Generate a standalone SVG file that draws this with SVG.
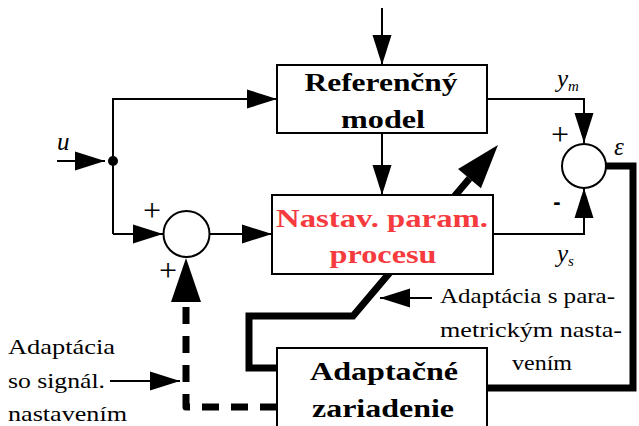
<svg xmlns="http://www.w3.org/2000/svg" width="639" height="426" viewBox="0 0 639 426">
<style>
.box{fill:#fff;stroke:#000;stroke-width:2}
.thin{fill:none;stroke:#000;stroke-width:2}
.thick{fill:none;stroke:#000;stroke-width:7}
.b{font-family:"Liberation Serif",serif;font-weight:bold;font-size:26px;text-anchor:middle}
.n{font-family:"Liberation Serif",serif;font-size:22px}
.p{font-family:"Liberation Serif",serif;font-size:32px;text-anchor:middle}
.m{font-family:"Liberation Serif",serif;font-style:italic;font-size:25px}
.s{font-family:"Liberation Serif",serif;font-style:italic;font-size:15px}
</style>
<defs>
<marker id="a" markerUnits="userSpaceOnUse" markerWidth="30" markerHeight="20" refX="30" refY="9.5" orient="auto" overflow="visible"><path d="M0,0 L30,9.5 L0,19 z" fill="#000"/></marker>
<marker id="A" markerUnits="userSpaceOnUse" markerWidth="44" markerHeight="30" refX="0" refY="15" orient="auto" overflow="visible"><path d="M0,0 L44,15 L0,30 z" fill="#000"/></marker>
</defs>
<g id="connectors">
<path class="thin" d="M382,8 L382,65" marker-end="url(#a)"/>
<path class="thin" d="M57,161 L105,161" marker-end="url(#a)"/>
<path class="thin" d="M113,234 L113,99 L277,99" marker-end="url(#a)"/>
<path class="thin" d="M113,234 L163,234" marker-end="url(#a)"/>
<circle cx="113" cy="161" r="5" fill="#000"/>
<path class="thin" d="M210,234 L272,234" marker-end="url(#a)"/>
<path class="thin" d="M382,133 L382,195" marker-end="url(#a)"/>
<path class="thin" d="M487,99 L584,99 L584,143" marker-end="url(#a)"/>
<path class="thin" d="M493,234 L584,234 L584,188" marker-end="url(#a)"/>
<path class="thin" d="M432,298 L380,298" marker-end="url(#a)"/>
<path class="thin" d="M110,381 L180,381" marker-end="url(#a)"/>
<path class="thick" d="M277,368 L249,368 L249,316 L353,316 L469.5,178.6" stroke-linejoin="miter" marker-end="url(#A)"/>
<path class="thick" d="M606,166 L633,166 L633,388 L487,388"/>
<path class="thick" d="M277,407 L186,407 L186,302" stroke-dasharray="17 12" stroke-linejoin="round" marker-end="url(#A)"/>
</g>
<g id="ref-model">
<rect class="box" x="277" y="65" width="210" height="68"/>
<text class="b" x="381" y="91" textLength="153" lengthAdjust="spacingAndGlyphs">Referenčný</text>
<text class="b" x="383" y="128" textLength="84" lengthAdjust="spacingAndGlyphs">model</text>
</g>
<g id="process">
<rect class="box" x="272" y="195" width="221" height="79"/>
<text class="b" x="382" y="227" fill="#f63b3f" textLength="212" lengthAdjust="spacingAndGlyphs">Nastav. param.</text>
<text class="b" x="383" y="263" fill="#f63b3f" textLength="107" lengthAdjust="spacingAndGlyphs">procesu</text>
</g>
<g id="adapt">
<rect class="box" x="277" y="348" width="210" height="90"/>
<text class="b" x="384" y="380" textLength="148" lengthAdjust="spacingAndGlyphs">Adaptačné</text>
<text class="b" x="383" y="417" textLength="142" lengthAdjust="spacingAndGlyphs">zariadenie</text>
</g>
<g id="sum1">
<circle cx="186.5" cy="234" r="23" fill="#fff" stroke="#000" stroke-width="2"/>
<text class="p" x="152" y="221">+</text>
<text class="p" x="168" y="281">+</text>
</g>
<g id="sum2">
<circle cx="584" cy="166" r="22" fill="#fff" stroke="#000" stroke-width="2"/>
<text class="p" x="560" y="145">+</text>
<text x="557" y="209" text-anchor="middle" font-family="Liberation Sans, sans-serif" font-weight="bold" font-size="22">-</text>
</g>
<g id="labels">
<text class="m" x="57" y="150">u</text>
<text class="m" x="557" y="87">y<tspan class="s" dy="4">m</tspan></text>
<text class="m" x="557" y="262">y<tspan class="s" dy="4">s</tspan></text>
<text class="m" x="614" y="155">ε</text>
<text class="n" x="8" y="354" textLength="107" lengthAdjust="spacingAndGlyphs">Adaptácia</text>
<text class="n" x="8" y="388" textLength="97" lengthAdjust="spacingAndGlyphs">so signál.</text>
<text class="n" x="8" y="421" textLength="119" lengthAdjust="spacingAndGlyphs">nastavením</text>
<text class="n" x="440" y="303" textLength="175" lengthAdjust="spacingAndGlyphs">Adaptácia s para-</text>
<text class="n" x="440" y="337" textLength="182" lengthAdjust="spacingAndGlyphs">metrickým nasta-</text>
<text class="n" x="512" y="370" textLength="60" lengthAdjust="spacingAndGlyphs">vením</text>
</g>
</svg>
